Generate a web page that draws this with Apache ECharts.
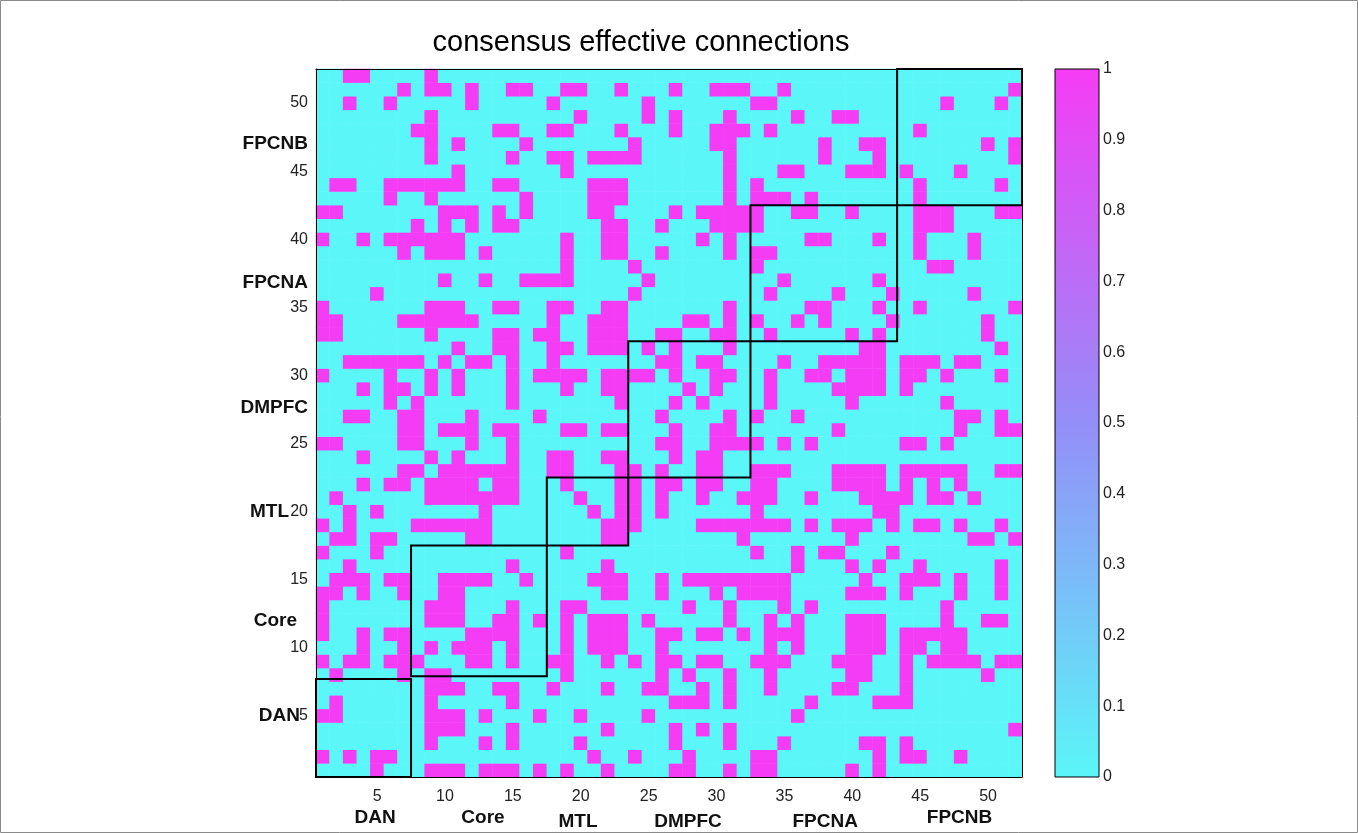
<!DOCTYPE html>
<html>
<head>
<meta charset="utf-8">
<title>consensus effective connections</title>
<script src="https://cdn.jsdelivr.net/npm/echarts@6/dist/echarts.min.js"></script>
<style>
  html, body { margin: 0; padding: 0; background: #ffffff; }
  #chart { width: 1358px; height: 833px; }
</style>
</head>
<body>
<div id="chart"></div>
<script>
// ---- data -------------------------------------------------------------
// node indices shown on both axes
const nodes = Array.from({ length: 52 }, (_, i) => String(i + 1));

// consensus connections: for each source node (row, 1..52 bottom to top),
// the target nodes (columns) whose connection value is 1; all others are 0
const connectedByRow = [
  [5,9,10,11,13,14,15,17,19,22,27,28,31,33,34,40,42],                       // 1
  [1,3,5,6,21,24,28,33,34,42,44,45,48],                                     // 2
  [9,13,15,20,27,31,35,41,42,44],                                           // 3
  [9,10,11,15,22,27,29,31,52],                                              // 4
  [1,2,9,10,11,13,17,20,25,36],                                             // 5
  [2,9,15,27,28,29,31,37,42,43,44],                                         // 6
  [9,10,11,14,15,18,22,25,26,29,31,34,39,40,44],                            // 7
  [2,7,9,10,19,26,28,31,34,40,41,44,50],                                    // 8
  [1,3,4,6,7,8,12,13,15,18,19,22,24,26,27,29,30,33,34,35,39,40,41,44,46,47,48,49,51,52], // 9
  [4,7,9,11,12,13,15,19,21,22,23,26,34,36,40,41,42,44,45,47,48],            // 10
  [1,4,6,7,12,13,14,15,19,21,22,23,26,27,29,30,32,34,35,36,40,41,42,44,45,46,47,48], // 11
  [1,9,10,11,14,15,17,19,21,22,23,25,31,34,36,40,41,42,47,50,51],           // 12
  [1,9,10,11,15,19,20,28,31,35,37,47],                                      // 13
  [1,2,4,7,10,11,22,23,26,30,32,33,34,35,40,41,42,44,48,51],                // 14
  [2,3,4,6,7,10,11,12,13,16,21,22,23,26,28,29,30,31,32,33,34,35,41,44,45,46,48,51], // 15
  [3,15,22,36,40,42,45,51],                                                 // 16
  [1,5,19,33,36,38,39,43],                                                  // 17
  [2,3,5,6,12,13,22,23,32,40,49,50,52],                                     // 18
  [1,3,8,9,10,11,12,13,22,23,24,29,30,31,32,33,34,35,37,39,40,41,43,45,46,48,51], // 19
  [3,5,13,21,23,24,26,33,42,43],                                            // 20
  [2,9,10,11,12,13,14,15,20,23,24,26,29,32,33,34,37,41,42,43,44,46,47,49],  // 21
  [4,6,7,9,10,11,12,14,15,19,23,24,26,27,29,30,33,34,39,40,41,42,44,46,48], // 22
  [7,8,10,11,12,13,14,15,18,19,23,24,26,29,30,33,34,35,39,40,41,42,44,45,46,47,48,51,52], // 23
  [4,9,11,15,18,19,22,23,27,29,30],                                         // 24
  [1,2,7,8,12,15,26,27,30,31,32,33,35,37,44,45,47],                         // 25
  [7,8,10,11,12,14,15,19,20,22,23,27,30,31,39,48,51,52],                    // 26
  [3,4,7,8,12,17,26,31,33,36,48,49,51],                                     // 27
  [6,8,15,23,27,29,34,40,47],                                               // 28
  [4,6,7,9,11,15,19,22,23,28,30,34,39,40,41,42,44],                         // 29
  [1,6,9,11,15,17,18,19,20,22,23,24,25,27,30,31,34,37,38,40,41,42,44,45,47,51], // 30
  [3,4,5,6,7,8,10,12,13,15,18,26,27,29,30,35,38,39,40,41,42,44,45,46,48,49], // 31
  [11,14,15,18,19,21,22,23,25,27,31,41,42,51],                              // 32
  [1,2,9,14,15,17,18,21,22,23,26,27,30,31,34,40,42,50],                     // 33
  [1,2,7,8,9,10,11,12,18,21,22,23,28,29,31,33,36,38,43,50],                 // 34
  [1,9,10,11,14,15,18,19,22,23,31,37,38,42,45,52],                          // 35
  [5,24,34,39,43,49],                                                       // 36
  [10,13,16,17,18,19,25,35,42],                                             // 37
  [19,24,33,46,47],                                                         // 38
  [7,9,10,11,13,19,22,23,26,31,33,34,45,49],                                // 39
  [1,4,6,7,8,9,10,11,19,22,23,29,31,37,38,42,45,49],                        // 40
  [8,10,12,14,15,22,23,26,30,31,32,33,45,46,47],                            // 41
  [1,2,10,11,12,14,16,21,22,27,29,30,31,32,33,36,37,40,45,46,47,51,52],     // 42
  [6,9,16,21,22,23,31,33,34,35,37,45],                                      // 43
  [2,3,6,7,8,9,10,11,14,15,21,22,23,31,33,45,51],                           // 44
  [11,19,31,35,36,40,41,42,44,48],                                          // 45
  [9,15,18,19,21,22,23,24,31,38,42,52],                                     // 46
  [9,11,16,24,30,31,38,41,42,50,52],                                        // 47
  [8,9,14,15,18,19,23,27,30,31,32,34,45],                                   // 48
  [9,20,25,27,31,36,39,40],                                                 // 49
  [3,6,12,18,25,33,34,47,51],                                               // 50
  [7,9,10,12,15,16,19,20,23,27,30,31,32,35,52],                             // 51
  [3,4,9]                                                                   // 52
];

// networks, their node spans (in node units) and where their names sit
const networkNames = ['DAN', 'Core', 'MTL', 'DMPFC', 'FPCNA', 'FPCNB'];
const networkColSpans = [[0.5, 7.5], [7.5, 17.5], [17.5, 23.5], [23.5, 32.5], [32.5, 43.3], [43.3, 52.5]];
const networkRowSpans = [[0.5, 7.7], [7.9, 17.5], [17.5, 22.5], [22.5, 32.5], [32.5, 42.5], [42.5, 52.5]];
const networkXLabelAt = [4.85, 12.8, 19.8, 27.9, 38.0, 47.9];
const networkYLabelAt = [5.0, 12.0, 20.0, 27.6, 36.8, 47.0];

// ---- styling ----------------------------------------------------------
const FONT = '"Liberation Sans", Arial, Helvetica, sans-serif';
const COOL = ['#5AF6F8', '#948EF8', '#F53CF5'];
const xLabelDrop = [41, 41, 45, 45, 45, 41];   // px below the x axis line
const yLabelGap = [16, 19, 27, 8, 8, 8];       // px left of the y axis line
const LABEL_FONT = 'bold 19px ' + FONT;

const cells = [];
connectedByRow.forEach((cols, r) => {
  for (let c = 1; c <= nodes.length; c++) {
    cells.push([c - 1, r, cols.indexOf(c) >= 0 ? 1 : 0]);
  }
});

const everyFifth = (index) => (index + 1) % 5 === 0;

const tickStyle = { inside: true, length: 5, alignWithLabel: true, interval: everyFifth,
                    lineStyle: { color: '#000', width: 1 } };
const lineStyle = { show: true, lineStyle: { color: '#000', width: 1 } };
const numLabel = { color: '#222', fontFamily: FONT, fontSize: 16 };
const scaleTick = { inside: true, length: 7, lineStyle: { color: '#000', width: 1 } };

const chart = echarts.init(document.getElementById('chart'), null, { renderer: 'canvas' });

const option = {
  animation: false,
  backgroundColor: '#ffffff',
  title: {
    text: 'consensus effective connections',
    left: 636, top: 23, textAlign: 'center',
    textStyle: { fontFamily: FONT, fontSize: 29, fontWeight: 'normal', color: '#000' }
  },
  graphic: [
    { type: 'rect', silent: true, z: 100,
      shape: { x: 0.5, y: 0.5, width: 1357, height: 832 },
      style: { fill: 'none', stroke: '#8a8a8a', lineWidth: 1 } }
  ],
  grid: [
    { left: 316, top: 69, width: 706, height: 708, show: false },
    { left: 1055, top: 69, width: 44, height: 708, show: false }
  ],
  xAxis: [
    { gridIndex: 0, type: 'category', data: nodes, position: 'bottom', z: 10,
      axisLine: lineStyle, axisTick: tickStyle, splitLine: { show: false },
      axisLabel: Object.assign({ interval: everyFifth, margin: 12 }, numLabel) },
    { gridIndex: 0, type: 'category', data: nodes, position: 'top', z: 10,
      axisLine: lineStyle, axisTick: tickStyle, splitLine: { show: false },
      axisLabel: { show: false } },
    { gridIndex: 1, type: 'category', data: ['scale'], show: false }
  ],
  yAxis: [
    { gridIndex: 0, type: 'category', data: nodes, position: 'left', z: 10,
      axisLine: lineStyle, axisTick: tickStyle, splitLine: { show: false },
      axisLabel: Object.assign({ interval: everyFifth, margin: 8 }, numLabel) },
    { gridIndex: 0, type: 'category', data: nodes, position: 'right', z: 10,
      axisLine: lineStyle, axisTick: tickStyle, splitLine: { show: false },
      axisLabel: { show: false } },
    { gridIndex: 1, type: 'value', min: 0, max: 1, interval: 0.1, position: 'right', z: 10,
      axisLine: { show: false }, splitLine: { show: false }, axisTick: scaleTick,
      axisLabel: Object.assign({ margin: 4,
        formatter: (v) => (v === 0 || v === 1) ? String(v) : v.toFixed(1) }, numLabel) },
    { gridIndex: 1, type: 'value', min: 0, max: 1, interval: 0.1, position: 'left', z: 10,
      axisLine: { show: false }, splitLine: { show: false }, axisTick: scaleTick,
      axisLabel: { show: false } }
  ],
  visualMap: {
    show: false, type: 'continuous', seriesIndex: 0, min: 0, max: 1,
    inRange: { color: COOL }
  },
  series: [
    {
      name: 'connections', type: 'heatmap', xAxisIndex: 0, yAxisIndex: 0,
      data: cells, progressive: 0, emphasis: { disabled: true },
      itemStyle: { borderWidth: 0 }
    },
    {
      name: 'networks', type: 'custom', xAxisIndex: 0, yAxisIndex: 0,
      data: [[0, 0]], clip: false, z: 5, silent: true,
      renderItem: (params, api) => {
        const origin = api.coord([0, 0]);
        const band = api.size([1, 1]);
        const px = (v) => origin[0] + (v - 1) * band[0];
        const py = (v) => origin[1] - (v - 1) * band[1];
        const axisBottom = py(0.5);
        const axisLeft = px(0.5);
        const children = [];
        networkNames.forEach((name, i) => {
          const cs = networkColSpans[i], rs = networkRowSpans[i];
          children.push({
            type: 'rect',
            shape: { x: px(cs[0]), y: py(rs[1]), width: px(cs[1]) - px(cs[0]), height: py(rs[0]) - py(rs[1]) },
            style: { fill: 'none', stroke: '#000', lineWidth: 2 }
          });
          children.push({
            type: 'text',
            style: { text: name, x: px(networkXLabelAt[i]), y: axisBottom + xLabelDrop[i],
                     align: 'center', verticalAlign: 'middle',
                     font: LABEL_FONT, fill: '#111' }
          });
          children.push({
            type: 'text',
            style: { text: name, x: axisLeft - yLabelGap[i], y: py(networkYLabelAt[i]),
                     align: 'right', verticalAlign: 'middle',
                     font: LABEL_FONT, fill: '#111' }
          });
        });
        return { type: 'group', children };
      }
    },
    {
      name: 'scale', type: 'custom', xAxisIndex: 2, yAxisIndex: 2,
      data: [[0, 0]], clip: false, silent: true, z: 1,
      renderItem: (params, api) => {
        const bottom = api.coord([0, 0]);
        const top = api.coord([0, 1]);
        const w = api.size([1, 0])[0];
        return {
          type: 'rect',
          shape: { x: bottom[0] - w / 2, y: top[1], width: w, height: bottom[1] - top[1] },
          style: {
            fill: new echarts.graphic.LinearGradient(0, 1, 0, 0, [
              { offset: 0, color: COOL[0] },
              { offset: 0.5, color: COOL[1] },
              { offset: 1, color: COOL[2] }
            ]),
            stroke: '#000', lineWidth: 1
          }
        };
      }
    }
  ]
};

chart.setOption(option);
</script>
</body>
</html>
